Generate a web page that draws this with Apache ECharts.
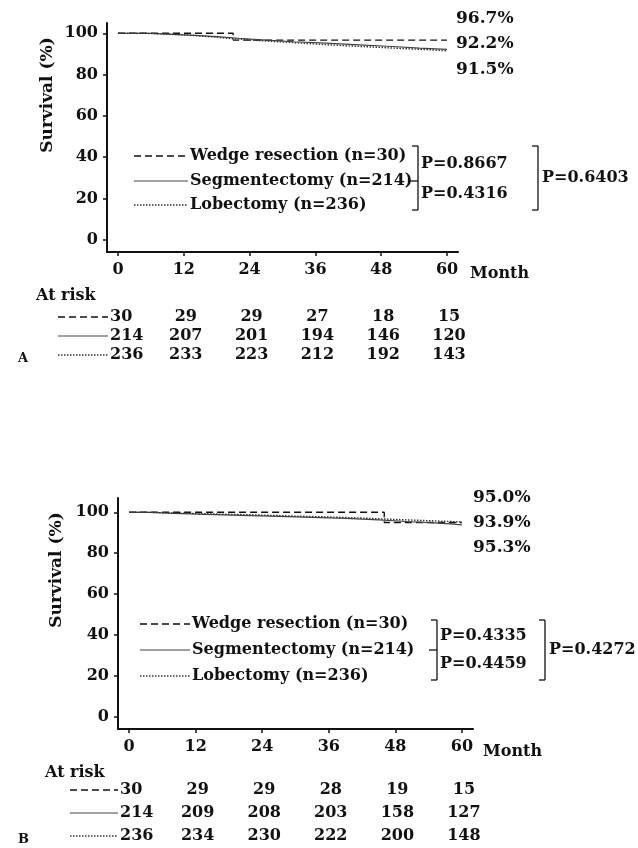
<!DOCTYPE html>
<html><head><meta charset="utf-8">
<script src="https://cdn.jsdelivr.net/npm/echarts@6/dist/echarts.min.js"></script>
<style>html,body{margin:0;padding:0;background:#fff}#c{width:638px;height:848px}</style>
</head><body><div id="c"></div>
<script>
const months = [0, 12, 24, 36, 48, 60];
const yTicks = [0, 20, 40, 60, 80, 100];
const groups = ['Wedge resection (n=30)', 'Segmentectomy (n=214)', 'Lobectomy (n=236)'];

// Panel A curves [month, survival %]
const aWedge = [[0,100],[21,96.7],[60,96.7]];
const aSeg = [[0,100],[6,99.5],[10,99],[14,98.4],[18,97.6],[22,96.7],[27,95.9],[32,95.2],[38,94.4],[44,93.6],[50,92.8],[55,92.2],[60,92.2]];
const aLob = [[0,100],[5,99.6],[9,99.1],[13,98.3],[17,97.4],[21,96.6],[25,95.8],[30,95.0],[35,94.2],[40,93.4],[46,92.6],[52,92.0],[57,91.5],[60,91.5]];
const aFinal = ['96.7%', '92.2%', '91.5%'];
const aP = ['P=0.8667', 'P=0.4316', 'P=0.6403'];
const aRisk = [[30,29,29,27,18,15],[214,207,201,194,146,120],[236,233,223,212,192,143]];

// Panel B curves
const bWedge = [[0,100],[46,95.0],[60,95.0]];
const bSeg = [[0,100],[4,99.5],[8,99.0],[14,98.5],[20,98.0],[27,97.5],[33,97.0],[39,96.3],[45,95.5],[50,94.8],[55,94.3],[58,93.9],[60,93.9]];
const bLob = [[0,100],[3,99.6],[9,99.2],[15,98.8],[22,98.3],[28,97.8],[35,97.2],[42,96.5],[48,95.9],[54,95.3],[60,95.3]];
const bFinal = ['95.0%', '93.9%', '95.3%'];
const bP = ['P=0.4335', 'P=0.4459', 'P=0.4272'];
const bRisk = [[30,29,29,28,19,15],[214,209,208,203,158,127],[236,234,230,222,200,148]];

const FONT = '"DejaVu Serif", "Liberation Serif", serif';
const INK = '#111';
const lineStyles = [
  {color: '#111', width: 1.4, type: [7, 4]},
  {color: '#444', width: 1.2, type: 'solid'},
  {color: '#333', width: 1.4, type: [1.5, 1.5]}
];

function mkAxes(gi, ymax) {
  const x = {
    type: 'value', gridIndex: gi, min: -2, max: 62,
    axisLine: {onZero: false, lineStyle: {color: INK, width: 2}},
    axisTick: {customValues: months, length: 4, lineStyle: {color: INK, width: 1.5}},
    axisLabel: {customValues: months, margin: 10, color: INK, fontFamily: FONT, fontWeight: 'bold', fontSize: 16},
    splitLine: {show: false}
  };
  const y = {
    type: 'value', gridIndex: gi, min: -6, max: ymax,
    axisLine: {show: true, onZero: false, lineStyle: {color: INK, width: 2}},
    axisTick: {show: true, customValues: yTicks, length: 4, lineStyle: {color: INK, width: 1.5}},
    axisLabel: {customValues: yTicks, margin: 9, color: INK, fontFamily: FONT, fontWeight: 'bold', fontSize: 16},
    splitLine: {show: false}
  };
  return [x, y];
}
const [xa, ya] = mkAxes(0, 105);
const [xb, yb] = mkAxes(1, 107);

function mkSeries(data, idx, gi) {
  return {
    type: 'line', step: 'end', data: data, xAxisIndex: gi, yAxisIndex: gi,
    symbol: 'none', lineStyle: lineStyles[idx], silent: true, animation: false
  };
}

const chart = echarts.init(document.getElementById('c'), null, {renderer: 'canvas'});
chart.setOption({
  animation: false,
  backgroundColor: '#fff',
  grid: [
    {left: 107, top: 23, width: 351, height: 229},
    {left: 118, top: 498, width: 355, height: 231}
  ],
  xAxis: [xa, xb],
  yAxis: [ya, yb],
  series: [
    mkSeries(aWedge, 0, 0), mkSeries(aSeg, 1, 0), mkSeries(aLob, 2, 0),
    mkSeries(bWedge, 0, 1), mkSeries(bSeg, 1, 1), mkSeries(bLob, 2, 1)
  ]
});

function txt(t, x, y, opt) {
  opt = opt || {};
  return {
    type: 'text', x: x, y: y, rotation: opt.rot || 0, silent: true,
    style: {
      text: t, fill: INK, font: 'bold ' + (opt.size || 16) + 'px ' + FONT,
      textAlign: opt.align || 'left', textVerticalAlign: 'middle',
      align: opt.align || 'left', verticalAlign: 'middle'
    }
  };
}
function ln(x1, y1, x2, y2, st) {
  return {
    type: 'line', silent: true, shape: {x1, y1, x2, y2},
    style: {stroke: st.color, lineWidth: st.width, lineDash: st.type === 'solid' ? null : st.type}
  };
}

function panel(gi, cfg) {
  const els = [];
  const px = v => chart.convertToPixel({xAxisIndex: gi, yAxisIndex: gi}, [v, 0])[0];
  els.push(txt('Survival (%)', cfg.ytX, cfg.ytY, {rot: Math.PI / 2, align: 'center', size: 17}));
  els.push(txt('Month', cfg.monthX, cfg.monthY, {}));
  cfg.finals.forEach((f, i) => els.push(txt(f, cfg.finX, cfg.finY[i], {size: 17})));
  groups.forEach((g, i) => {
    const y = cfg.legY[i];
    els.push(ln(cfg.legX1, y, cfg.legX2, y, lineStyles[i]));
    els.push(txt(g, cfg.legX2 + 2, y, {}));
  });
  const b = cfg.br;
  const bs = {color: INK, width: 1.3, type: 'solid'};
  els.push(ln(b.x1 - 6, b.top, b.x1, b.top, bs));
  els.push(ln(b.x1, b.top, b.x1, b.bot, bs));
  els.push(ln(b.x1 - 6, b.bot, b.x1, b.bot, bs));
  els.push(ln(b.x1 - 8, cfg.legY[1], b.x1, cfg.legY[1], bs));
  els.push(txt(cfg.P[0], b.x1 + 3, b.p1y, {}));
  els.push(txt(cfg.P[1], b.x1 + 3, b.p2y, {}));
  els.push(ln(b.x2 - 6, b.top, b.x2, b.top, bs));
  els.push(ln(b.x2, b.top, b.x2, b.bot, bs));
  els.push(ln(b.x2 - 6, b.bot, b.x2, b.bot, bs));
  els.push(txt(cfg.P[2], b.x2 + 4, (b.top + b.bot) / 2, {}));
  els.push(txt('At risk', cfg.arX, cfg.arY, {}));
  cfg.risk.forEach((row, r) => {
    const y = cfg.rowY[r];
    els.push(ln(cfg.sampX1, y, cfg.sampX2, y, lineStyles[r]));
    row.forEach((v, c) => {
      if (c === 0) els.push(txt(String(v), cfg.sampX2 + 2, y, {}));
      else els.push(txt(String(v), px(months[c]) + 2, y, {align: 'center'}));
    });
  });
  els.push(txt(cfg.tag, 18, cfg.tagY, {size: 13}));
  return els;
}

const elements = [].concat(
  panel(0, {
    ytX: 48, ytY: 95, monthX: 470, monthY: 274,
    finals: aFinal, finX: 456, finY: [19, 44, 70],
    legY: [156, 181, 205], legX1: 134, legX2: 188,
    P: aP, br: {x1: 418, x2: 538, top: 146, bot: 210, p1y: 164, p2y: 194},
    arX: 36, arY: 296, risk: aRisk, rowY: [317, 336, 355], sampX1: 58, sampX2: 108,
    tag: 'A', tagY: 359
  }),
  panel(1, {
    ytX: 57, ytY: 570, monthX: 483, monthY: 752,
    finals: bFinal, finX: 473, finY: [498, 523, 548],
    legY: [624, 650, 676], legX1: 140, legX2: 190,
    P: bP, br: {x1: 437, x2: 545, top: 620, bot: 680, p1y: 636, p2y: 664},
    arX: 45, arY: 773, risk: bRisk, rowY: [790, 813, 836], sampX1: 70, sampX2: 118,
    tag: 'B', tagY: 840
  })
);
chart.setOption({graphic: {elements: elements}});
</script></body></html>
